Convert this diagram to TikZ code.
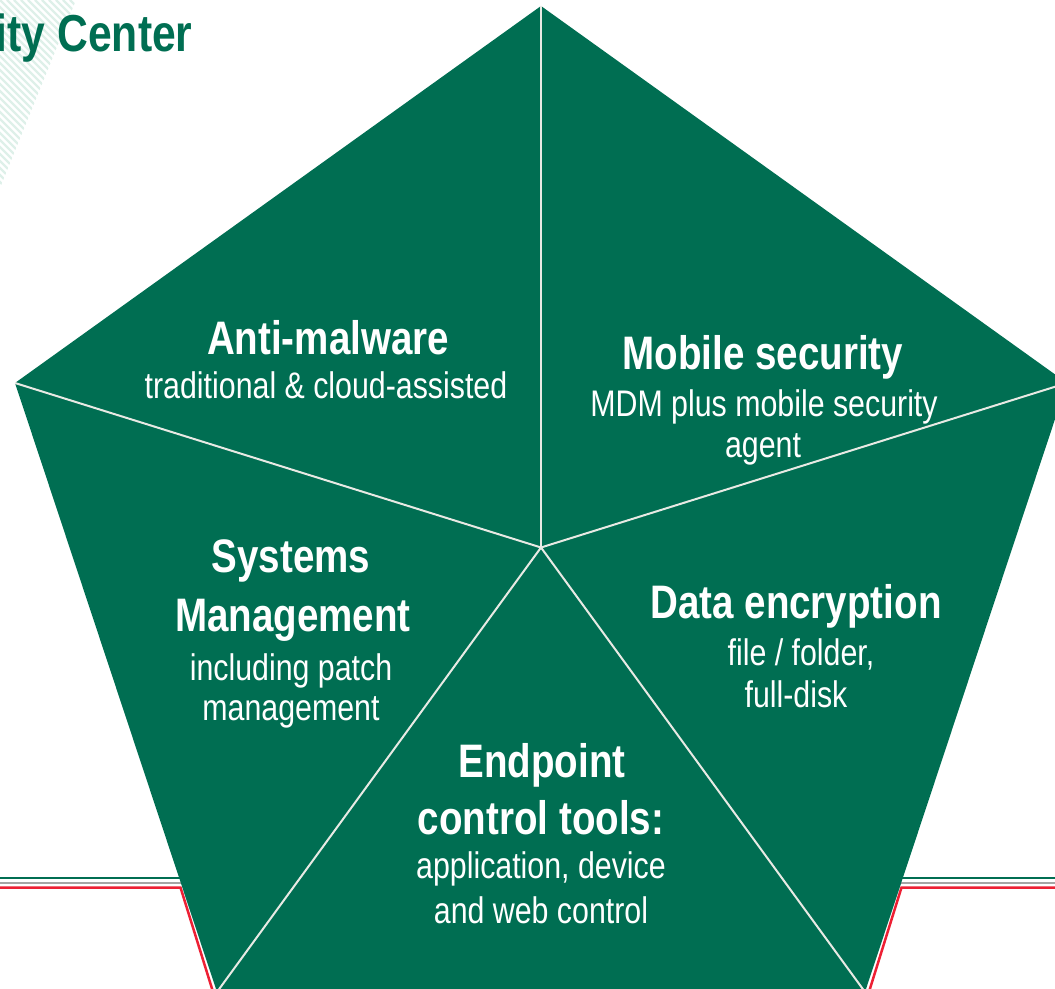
\documentclass[tikz,border=0pt]{standalone}
\usepackage{fontspec}
\usepackage{tikz}
\newfontfamily\narrowsans[FakeStretch=0.82]{Liberation Sans}
\definecolor{kgreen}{RGB}{0,110,82}
\definecolor{kred}{RGB}{237,32,52}
\definecolor{kgray}{RGB}{165,165,165}
\definecolor{hatchgreen}{RGB}{222,240,233}
\definecolor{spokewhite}{RGB}{232,234,228}
\tikzset{
  head/.style={text=white, inner sep=0pt, anchor=base,
    font=\narrowsans\bfseries\fontsize{23.5}{28}\selectfont},
  sub/.style={text=white, inner sep=0pt, anchor=base,
    font=\narrowsans\fontsize{18.5}{22}\selectfont},
  spoke/.style={draw=spokewhite, line width=1pt},
}

\begin{document}
\begin{tikzpicture}[x=0.5pt, y=-0.5pt]
    \useasboundingbox (0,0) rectangle (1055,989);
    % hatched corner of the slide
    \begin{scope}
      \clip (0,0) -- (76,0) -- (0,188) -- cycle;
      \foreach \k in {-28,...,12}
        \draw[hatchgreen, line width=1.2pt] (\k*7,0) -- ++(200,200);
    \end{scope}
    \node[anchor=base east, inner sep=0pt, text=kgreen,
      font=\narrowsans\bfseries\fontsize{26}{30}\selectfont] (title) at (193,52) {ity Center};
    % slide rules
    \draw[kgreen, line width=0.8pt] (0,878) -- (1055,878);
    \draw[kgray, line width=1pt] (0,883) -- (1055,883);
    \draw[kred, line width=1.25pt] (0,887.5) -- (180.5,887.5) -- (214,995);
    \draw[kred, line width=1.25pt] (1055,887.5) -- (901.5,887.5) -- (868,995);
    % pentagon
    \coordinate (T) at (541,6);
    \coordinate (R) at (1067,383);
    \coordinate (BR) at (865,992);
    \coordinate (BL) at (217,992);
    \coordinate (L) at (15,383);
    \coordinate (C) at (541,547.5);
    \fill[kgreen] (T) -- (R) -- (BR) -- (BL) -- (L) -- cycle;
    \foreach \v in {T,R,BR,BL,L}
      \draw[spoke] (C) -- (\v);
    % texts
    \foreach \Point/\Kind/\Name/\Text in {
      (328,355)/head/am/Anti-malware,
      (326,399)/sub/amsub/{traditional \& cloud-assisted},
      (763,370)/head/ms/Mobile security,
      (764,417)/sub/mssub/MDM plus mobile security,
      (763,458)/sub/mssub2/agent,
      (291,573)/head/sm/Systems,
      (293,631)/head/sm2/Management,
      (291,680)/sub/smsub/including patch,
      (291,720)/sub/smsub2/management,
      (796,618)/head/de/Data encryption,
      (801,665)/sub/desub/{file / folder,},
      (796,707)/sub/desub2/full-disk,
      (542,777)/head/ec/Endpoint,
      (541,834)/head/ec2/control tools:,
      (541,878)/sub/ecsub/{application, device},
      (541,923)/sub/ecsub2/and web control
    }
    \node[\Kind] (\Name) at \Point {\Text};
\end{tikzpicture}
\end{document}
